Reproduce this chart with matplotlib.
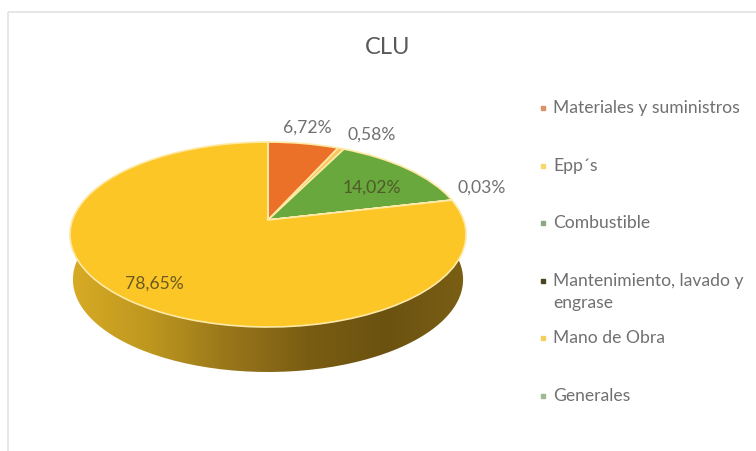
"""Pie "CLU" with a tilted 3D look: the flat pie gets a perspective transform and a shaded rim."""

import numpy as np
import matplotlib
matplotlib.use("Agg")
import matplotlib.pyplot as plt
from matplotlib.colors import LinearSegmentedColormap
from matplotlib.patches import PathPatch, Rectangle
from matplotlib.path import Path
from matplotlib.transforms import Transform

TITLE = "CLU"
CATEGORIES = ["Materiales y suministros", "Epp´s", "Combustible",
              "Mantenimiento, lavado y\nengrase", "Mano de Obra", "Generales"]
VALUES = [6.72, 0.58, 14.02, 0.03, 78.65, 0.0]
PCT_LABELS = ["6,72%", "0,58%", "14,02%", "0,03%", "78,65%"]
SLICE_COLORS = ["#EB7128", "#F7C55A", "#69A83C", "#6B5310", "#FCC627", "#69A83C"]
LEGEND_COLORS = ["#D9926A", "#F5D76A", "#8FA884", "#4A4420", "#F5CF5A", "#9DBB92"]
RIM_COLORS = ["#D8AB25", "#BE971F", "#98761A", "#7A5D13", "#6B5210", "#7A5F14"]

# positions in picture pixels
PCT_POS = [(307, 128), (372, 135), (372, 188), (482, 188), (154, 284)]
LEGEND_Y = [108, 166, 223, 292, 338, 396]
GRAY = "#707070"

plt.rcParams["font.family"] = ["Lato", "DejaVu Sans"]


class Tilt(Transform):
    """Unit circle -> picture pixels, near edge bigger than far edge."""
    input_dims = output_dims = 2
    is_separable = False
    has_inverse = False
    k = 0.157
    ax_, ay_ = 195.6, 90.2
    cx, cy = 268, 220

    def transform_non_affine(self, xy):
        xy = np.asarray(xy, dtype=float)
        d = 1 + self.k * xy[:, 1]
        return np.column_stack((self.cx + self.ax_ * xy[:, 0] / d,
                                self.cy - self.ay_ * xy[:, 1] / d))

    def transform_path_non_affine(self, path):
        return Path(self.transform_non_affine(path.vertices), path.codes)


def main() -> None:
    fig = plt.figure(figsize=(7.56, 4.51), dpi=100)
    ax = fig.add_axes([0, 0, 1, 1])

    tilt = Tilt()
    wedges, _ = ax.pie(VALUES, colors=SLICE_COLORS, startangle=90, counterclock=False,
                       wedgeprops={"edgecolor": "#FFE9A6", "linewidth": 1.2})
    for w in wedges:
        w.set_transform(tilt + ax.transData)
        w.set_zorder(3)

    ax.set_aspect("auto")
    ax.axis("off")

    # chart frame, runs off the right and bottom of the screenshot
    ax.add_patch(Rectangle((8, 12), 760, 450, fill=False, edgecolor="#E2E2E2", linewidth=1.2))

    # rim of the disc: gradient clipped to the top edge pushed down
    t = np.radians(np.linspace(175, 365, 120))
    rim = tilt.transform_non_affine(np.column_stack((np.cos(t), np.sin(t))))
    low = rim.copy()
    low[:, 0] = 268 + (low[:, 0] - 268) * 0.985
    low[:, 1] += 45
    outline = Path(np.vstack((rim, low[::-1])))
    cmap = LinearSegmentedColormap.from_list("rim", RIM_COLORS)
    img = ax.imshow(np.linspace(0, 1, 256).reshape(1, -1), cmap=cmap, aspect="auto",
                    extent=(70, 466, 375, 230), zorder=2)
    clip = PathPatch(outline, facecolor="none", edgecolor="none", transform=ax.transData)
    ax.add_patch(clip)
    img.set_clip_path(clip)
    ax.set_xlim(0, 756)
    ax.set_ylim(451, 0)

    ax.text(388, 47, TITLE, ha="center", va="center", fontsize=17, color="#595959")

    for label, (x, y) in zip(PCT_LABELS, PCT_POS):
        color = {"14,02%": "#4F5A2A", "78,65%": "#6B5A20"}.get(label, GRAY)
        ax.text(x, y, label, ha="center", va="center", fontsize=12.6, zorder=5, color=color)

    for name, color, y in zip(CATEGORIES, LEGEND_COLORS, LEGEND_Y):
        first_y = y - 11 if "\n" in name else y
        ax.plot([543], [first_y], marker="s", markersize=3.4, color=color, linestyle="none")
        ax.text(553, y, name, ha="left", va="center", fontsize=12.6, color=GRAY, linespacing=1.4)

    fig.savefig("out.png", dpi=100)


if __name__ == "__main__":
    main()
